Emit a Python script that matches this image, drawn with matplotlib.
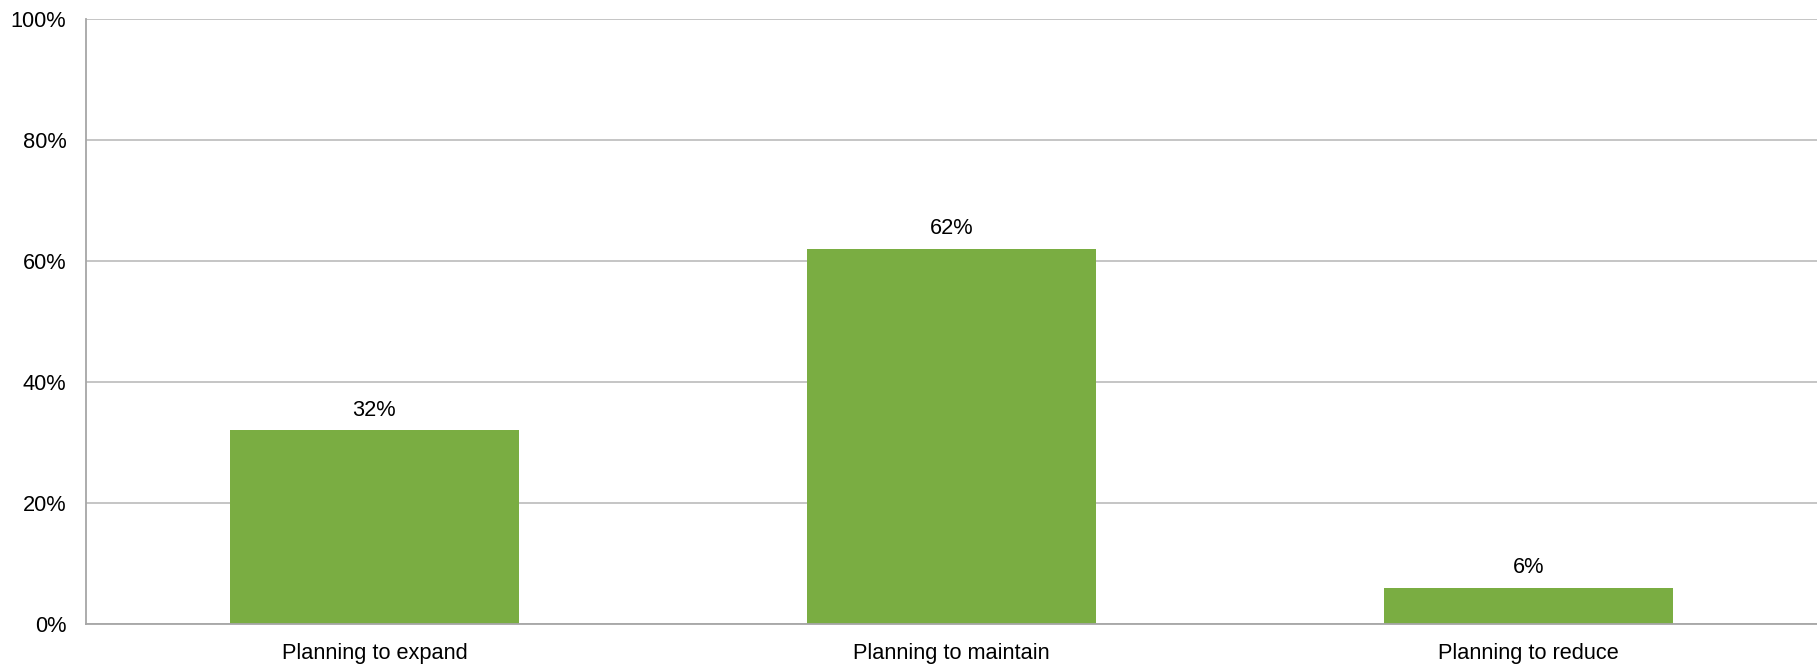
import matplotlib
matplotlib.use('Agg')
import matplotlib.pyplot as plt
from matplotlib.ticker import FuncFormatter

categories = ['Planning to expand', 'Planning to maintain', 'Planning to reduce']
values = [32, 62, 6]
labels = ['32%', '62%', '6%']
yticks = [0, 20, 40, 60, 80, 100]

plt.rcParams['font.family'] = ['Liberation Sans', 'DejaVu Sans']

fig = plt.figure(figsize=(18.17, 6.65), dpi=100)
ax = fig.add_axes([0.0473, 0.0617, 0.9527, 0.9097])

bars = ax.bar(range(len(categories)), values, width=0.5, color='#7AAD42', zorder=3)

for b, lab in zip(bars, labels):
    ax.annotate(lab, (b.get_x() + b.get_width() / 2, b.get_height()),
                xytext=(0, 7), textcoords='offset points',
                ha='center', va='bottom', fontsize=15.7, color='#000000')

ax.set_xlim(-0.5, len(categories) - 0.5)
ax.set_ylim(0, 100)
ax.set_yticks(yticks)
ax.yaxis.set_major_formatter(FuncFormatter(lambda v, p: f'{v:.0f}%'))
ax.set_xticks(range(len(categories)))
ax.set_xticklabels(categories)

ax.grid(axis='y', color='#C0C0C0', linewidth=1.3, zorder=0)
ax.tick_params(axis='y', length=0, pad=14, labelsize=15.7)
ax.tick_params(axis='x', length=0, pad=14, labelsize=15.7)

for s in ['top', 'right']:
    ax.spines[s].set_visible(False)
ax.spines['left'].set_color('#A6A6A6')
ax.spines['bottom'].set_color('#A6A6A6')
ax.spines['left'].set_linewidth(1.3)
ax.spines['bottom'].set_linewidth(1.3)
ax.spines['bottom'].set_zorder(4)

fig.savefig('out.png', dpi=100)
